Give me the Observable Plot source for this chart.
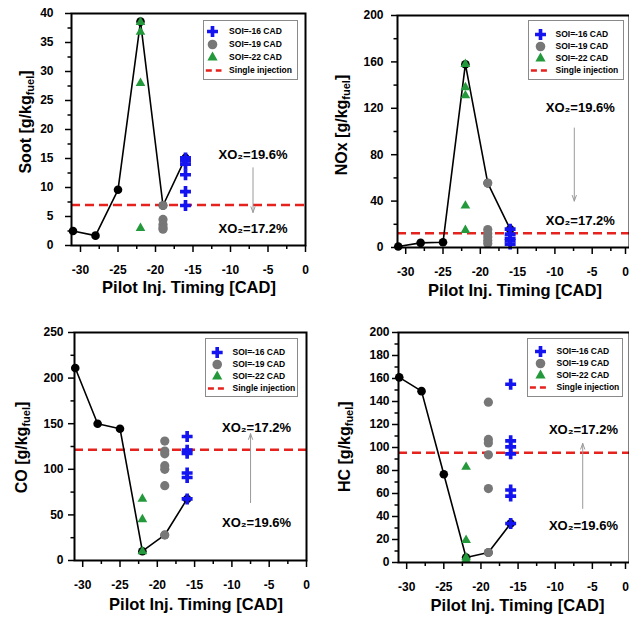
<!DOCTYPE html>
<html><head><meta charset="utf-8">
<script src="https://cdn.jsdelivr.net/npm/d3@7"></script>
<script src="https://cdn.jsdelivr.net/npm/@observablehq/plot@0.6"></script>
<style>
html,body{margin:0;padding:0;background:#fff;overflow:hidden}
#root{position:relative;width:629px;height:617px;overflow:hidden}
.abs{position:absolute}
</style></head><body><div id="root"></div>
<script>
// ---------- data ----------
const timing = [-31, -28, -25, -22, -19, -16];
const legendLabels = ["SOI=-16 CAD", "SOI=-19 CAD", "SOI=-22 CAD", "Single injection"];
const xTitle = "Pilot Inj. Timing [CAD]";
const xMajor = [-30, -25, -20, -15, -10, -5, 0];
const xMinor = [-27.5, -22.5, -17.5, -12.5, -7.5, -2.5];

// Soot
const sootLine = [2.5, 1.7, 9.6, 38.6, 6.9, 15.1];
const soot16 = [15.1, 14.6, 14.0, 12.2, 9.3, 6.9];
const soot19 = [6.9, 4.5, 3.6, 3.1, 2.8];
const soot22 = [38.5, 36.8, 28.0, 3.0];
const sootSingle = 7.0;
const sootTicks = [0, 5, 10, 15, 20, 25, 30, 35, 40];
const sootMinor = [2.5, 7.5, 12.5, 17.5, 22.5, 27.5, 32.5, 37.5];

// NOx
const noxLine = [0.8, 4.0, 4.5, 158, 55.5, 15.8];
const nox16 = [15.8, 11.5, 8.0, 5.8, 2.9];
const nox19 = [55.5, 15.5, 12.0, 9.0, 6.0, 3.5];
const nox22 = [158, 138, 131, 36, 15];
const noxSingle = 12.3;
const noxTicks = [0, 40, 80, 120, 160, 200];
const noxMinor = [20, 60, 100, 140, 180];

// CO
const coLine = [211, 150, 144.5, 10.2, 28, 67.5];
const co16 = [136, 121, 117.5, 96, 91, 67.5];
const co19 = [131, 120, 117, 104, 100, 82, 28];
const co22 = [67.5, 45, 10];
const coSingle = 121.5;
const coTicks = [0, 50, 100, 150, 200, 250];
const coMinor = [25, 75, 125, 175, 225];

// HC
const hcLine = [161, 149, 76.8, 4.3, 8.7, 33.9];
const hc16 = [155, 105.8, 100.6, 94.5, 63, 57.7, 33.9];
const hc19 = [139.4, 107, 104, 93.6, 64.3, 8.7];
const hc22 = [83, 19.4, 4.3, 2.5];
const hcSingle = 95.4;
const hcTicks = [0, 20, 40, 60, 80, 100, 120, 140, 160, 180, 200];
const hcMinor = [10, 30, 50, 70, 90, 110, 130, 150, 170, 190];

// annotations (data coordinates)
const sootNotes = [{x: -7, y: 15.7, t: "XO₂=19.6%"}, {x: -7, y: 2.8, t: "XO₂=17.2%"}];
const sootArrow = {x: -7, y1: 13.4, y2: 5.7};
const noxNotes = [{x: -6.6, y: 120.6, t: "XO₂=19.6%"}, {x: -6.6, y: 23, t: "XO₂=17.2%"}];
const noxArrow = {x: -7.4, y1: 103, y2: 40};
const coNotes = [{x: -6.7, y: 145, t: "XO₂=17.2%"}, {x: -6.7, y: 41.6, t: "XO₂=19.6%"}];
const coArrow = {x: -7.5, y1: 63.5, y2: 139};
const hcNotes = [{x: -6.2, y: 115.6, t: "XO₂=17.2%"}, {x: -6.2, y: 32, t: "XO₂=19.6%"}];
const hcArrow = {x: -6.3, y1: 47, y2: 103.5};

// ---------- styling & layout ----------
const FONT = '"Liberation Sans", Arial, Helvetica, sans-serif';
const BLUE = "#1414f0", GRAY = "#777777", GREEN = "#23993b", RED = "#e5221d";

const panels = [
  {name: "Soot", line: sootLine, s16: soot16, s19: soot19, s22: soot22, single: sootSingle,
   yMax: 40, ticks: sootTicks, minor: sootMinor, notes: sootNotes, arrow: sootArrow,
   L: {left: 0, top: 0, w: 315, h: 300, ml: 71, mr: 10, mt: 13, mb: 55, xd: [-31.2, 0], ypad: 12, edge: false,
       ylab: [25, 122], xlab: [189, 287],
       lg: {left: 203, top: 20, w: 94, h: 59, r0: 10, r1: 51.5, sx: 9, tx: 25.6, lx1: 2.3, lx2: 18}}},
  {name: "NOx", line: noxLine, s16: nox16, s19: nox19, s22: nox22, single: noxSingle,
   yMax: 200, ticks: noxTicks, minor: noxMinor, notes: noxNotes, arrow: noxArrow,
   L: {left: 320, top: 0, w: 309, h: 300, ml: 77, mr: 0, mt: 15, mb: 53, xd: [-31.1, 0], ypad: 8, edge: true,
       ylab: [21.7, 125], xlab: [195, 290],
       lg: {left: 528, top: 20, w: 95, h: 59, r0: 12.7, r1: 51, sx: 12, tx: 27, lx1: 2.4, lx2: 18.4}}},
  {name: "CO", line: coLine, s16: co16, s19: co19, s22: co22, single: coSingle,
   yMax: 250, ticks: coTicks, minor: coMinor, notes: coNotes, arrow: coArrow,
   L: {left: 0, top: 300, w: 315, h: 317, ml: 74, mr: 9, mt: 32, mb: 57, xd: [-31.1, 0], ypad: 5, edge: false,
       ylab: [21, 147.5], xlab: [196, 304],
       lg: {left: 205, top: 338, w: 92, h: 58, r0: 12.3, r1: 51, sx: 11.7, tx: 27, lx1: 2.4, lx2: 18.4}}},
  {name: "HC", line: hcLine, s16: hc16, s19: hc19, s22: hc22, single: hcSingle,
   yMax: 200, ticks: hcTicks, minor: hcMinor, notes: hcNotes, arrow: hcArrow,
   L: {left: 320, top: 300, w: 309, h: 317, ml: 78, mr: 0, mt: 32, mb: 55, xd: [-31.1, 0], ypad: 3, edge: true,
       ylab: [24, 146.7], xlab: [197.5, 305],
       lg: {left: 527, top: 338, w: 95, h: 58, r0: 12, r1: 50.7, sx: 13, tx: 29, lx1: 2.4, lx2: 18.4}}}
];

const root = document.getElementById("root");

function rows(x, vals) { return vals.map(v => ({t: x, v})); }

function makePanel(p) {
  const L = p.L;
  const lineRows = timing.map((t, i) => ({t, v: p.line[i]}));
  const inner = L.edge ? xMajor.filter(d => d !== 0) : xMajor;
  const xAxes = [
    Plot.axisX({ticks: inner, tickSize: 7, tickPadding: 13, tickFormat: d => String(d), strokeWidth: 1.5, label: null})
  ];
  if (L.edge) {
    // last label sits on the page edge: keep it readable inside the page
    xAxes.push(Plot.axisX({ticks: [0], tickSize: 7, tickPadding: 13, tickFormat: d => String(d), strokeWidth: 1.5, label: null, dx: -4}));
  }
  const plot = Plot.plot({
    width: L.w, height: L.h,
    marginLeft: L.ml, marginRight: L.mr, marginTop: L.mt, marginBottom: L.mb,
    x: {domain: L.xd, label: null},
    y: {domain: [0, p.yMax], label: null},
    style: {fontFamily: FONT, fontSize: "12px", fontWeight: "bold", color: "black", background: "transparent", overflow: "visible"},
    marks: [
      Plot.ruleY([p.single], {stroke: RED, strokeWidth: 2.5, strokeDasharray: "9,5"}),
      Plot.arrow([p.arrow], {x1: "x", x2: "x", y1: "y1", y2: "y2", stroke: "#9a9a9a", strokeWidth: 1, headLength: 9, headAngle: 40}),
      Plot.text(p.notes, {x: "x", y: "y", text: "t", fontSize: 13, fontWeight: "bold", fill: "black"}),
      Plot.line(lineRows, {x: "t", y: "v", stroke: "black", strokeWidth: 1.6}),
      Plot.dot(lineRows, {x: "t", y: "v", r: 4.3, fill: "black"}),
      Plot.dot(rows(-19, p.s19), {x: "t", y: "v", r: 4.6, fill: GRAY}),
      Plot.dot(rows(-22, p.s22), {x: "t", y: "v", r: 3.6, symbol: "triangle", fill: GREEN}),
      Plot.dot(rows(-16, p.s16), {x: "t", y: "v", r: 4.6, symbol: "cross", fill: BLUE}),
      ...xAxes,
      Plot.axisX({ticks: xMinor, tickSize: 4, tickFormat: () => "", strokeWidth: 1.5, label: null}),
      Plot.axisY({ticks: p.ticks, tickSize: 6, tickPadding: L.ypad, tickFormat: d => String(d), strokeWidth: 1.5, label: null}),
      Plot.axisY({ticks: p.minor, tickSize: 3.5, tickFormat: () => "", strokeWidth: 1.5, label: null}),
      Plot.frame({stroke: "black", strokeWidth: 2})
    ]
  });
  const svg = d3.select(plot);
  // y title with subscript
  const yt = svg.append("text")
    .attr("transform", `translate(${L.ylab[0]},${L.ylab[1]}) rotate(-90)`)
    .attr("text-anchor", "middle").attr("dy", "0.35em")
    .attr("font-size", 16).attr("font-weight", "bold").attr("font-family", FONT).attr("fill", "black");
  yt.append("tspan").text(p.name + " [g/kg");
  yt.append("tspan").attr("font-size", 11).attr("dy", 3).text("fuel");
  yt.append("tspan").attr("dy", -3).text("]");
  svg.append("text")
    .attr("x", L.xlab[0]).attr("y", L.xlab[1]).attr("dy", "0.35em")
    .attr("text-anchor", "middle").attr("font-size", 16.5).attr("font-weight", "bold")
    .attr("font-family", FONT).attr("fill", "black").text(xTitle);
  plot.classList.add("abs");
  plot.style.left = L.left + "px";
  plot.style.top = L.top + "px";
  root.appendChild(plot);

  const g = L.lg;
  const leg = Plot.plot({
    width: g.w, height: g.h, margin: 0,
    x: {domain: [0, g.w], range: [0, g.w], axis: null},
    y: {type: "point", domain: legendLabels, range: [g.r0, g.r1], padding: 0, axis: null},
    style: {fontFamily: FONT, fontSize: "8.5px", fontWeight: "bold", background: "white", color: "black", overflow: "visible"},
    marks: [
      Plot.frame({stroke: "#8a8a8a", strokeWidth: 1}),
      Plot.dot([legendLabels[0]], {x: g.sx, y: d => d, r: 4.6, symbol: "cross", fill: BLUE}),
      Plot.dot([legendLabels[1]], {x: g.sx, y: d => d, r: 4.8, fill: GRAY}),
      Plot.dot([legendLabels[2]], {x: g.sx, y: d => d, r: 3.8, symbol: "triangle", fill: GREEN}),
      Plot.link([legendLabels[3]], {x1: g.lx1, x2: g.lx2, y1: d => d, y2: d => d, stroke: RED, strokeWidth: 2.5, strokeDasharray: "6,4"}),
      Plot.text(legendLabels, {x: g.tx, y: d => d, text: d => d, textAnchor: "start", fill: "black"})
    ]
  });
  leg.classList.add("abs");
  leg.style.left = g.left + "px";
  leg.style.top = g.top + "px";
  root.appendChild(leg);
}

panels.forEach(makePanel);
</script>
</body></html>
